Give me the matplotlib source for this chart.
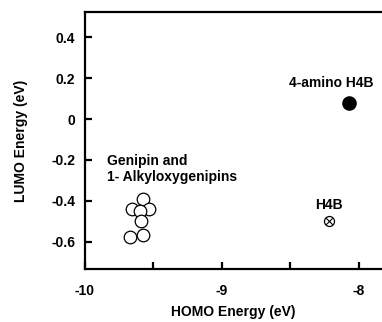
import matplotlib
matplotlib.use("Agg")
import matplotlib.pyplot as plt

plt.rcParams['font.family'] = ['Liberation Sans', 'DejaVu Sans']
plt.rcParams['font.weight'] = 'bold'

# Genipin and 1-alkyloxygenipins (HOMO, LUMO in eV)
gen_homo = [-9.58, -9.66, -9.53, -9.60, -9.59, -9.67, -9.58]
gen_lumo = [-0.39, -0.44, -0.44, -0.45, -0.50, -0.575, -0.565]
amino_homo = [-8.07]
amino_lumo = [0.08]
h4b_homo = [-8.22]
h4b_lumo = [-0.50]

fig = plt.figure(figsize=(3.82, 3.22), dpi=100)
ax = fig.add_axes([0.2225, 0.1646, 0.7775, 0.798])

ax.scatter(gen_homo, gen_lumo, s=82, facecolor='white', edgecolor='black', linewidth=0.9, zorder=3)
ax.scatter(amino_homo, amino_lumo, s=90, color='black', zorder=3)
ax.scatter(h4b_homo, h4b_lumo, s=52, facecolor='white', edgecolor='black', linewidth=0.9, zorder=3)
ax.scatter(h4b_homo, h4b_lumo, s=22, marker='x', color='black', linewidth=0.8, zorder=4)

ax.text(-8.20, 0.14, "4-amino H4B", ha='center', va='bottom', fontsize=10, fontweight='bold')
ax.text(-8.22, -0.455, "H4B", ha='center', va='bottom', fontsize=10, fontweight='bold')
ax.text(-9.84, -0.245, "Genipin and\n1- Alkyloxygenipins", ha='left', va='center', fontsize=10,
        fontweight='bold', linespacing=1.2)

ax.set_xlim(-10, -7.832)
ax.set_ylim(-0.732, 0.522)
ax.set_xticks([-10, -9.5, -9, -8.5, -8])
ax.set_xticklabels(['-10', '', '-9', '', '-8'])
ax.set_yticks([-0.6, -0.4, -0.2, 0, 0.2, 0.4])
ax.set_yticklabels(['-0.6', '-0.4', '-0.2', '0', '0.2', '0.4'])
ax.tick_params(direction='in', length=5, width=1.6, labelsize=10)
ax.tick_params(axis='x', pad=11)
ax.tick_params(axis='y', pad=7)

for side in ['left', 'bottom', 'top']:
    ax.spines[side].set_linewidth(1.6)
ax.spines['right'].set_visible(False)

ax.set_xlabel("HOMO Energy (eV)", fontsize=10, fontweight='bold', labelpad=5)
ax.set_ylabel("LUMO Energy (eV)", fontsize=10, fontweight='bold', labelpad=17)

fig.savefig("out.png", dpi=100)
